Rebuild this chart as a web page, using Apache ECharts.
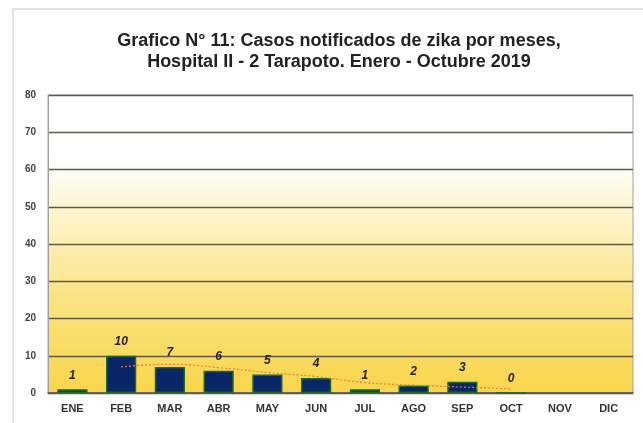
<!DOCTYPE html>
<html>
<head>
<meta charset="utf-8">
<script src="https://cdn.jsdelivr.net/npm/echarts@6/dist/echarts.min.js"></script>
<style>
  html, body { margin: 0; padding: 0; background: #fff; }
  #chart { width: 643px; height: 423px; }
</style>
</head>
<body>
<div id="chart"></div>
<script>
const meses   = ['ENE', 'FEB', 'MAR', 'ABR', 'MAY', 'JUN', 'JUL', 'AGO', 'SEP', 'OCT', 'NOV', 'DIC'];
const casos   = [1, 10, 7, 6, 5, 4, 1, 2, 3, 0, null, null];
// dotted trend line
const tendencia = [null, 7.0, 7.7, 6.8, 5.5, 4.4, 2.8, 2.1, 1.6, 1.1, null, null];
const yTicks  = [0, 10, 20, 30, 40, 50, 60, 70, 80];

const chart = echarts.init(document.getElementById('chart'));

let option = {
    backgroundColor: '#fff',
    animation: false,
    title: {
        text: 'Grafico N° 11: Casos notificados de zika por meses,\nHospital II - 2 Tarapoto. Enero - Octubre 2019',
        left: 334,
        textAlign: 'center',
        top: 26,
        textStyle: {
            fontFamily: 'Liberation Sans',
            fontWeight: 'bold',
            fontSize: 18,
            lineHeight: 21,
            color: '#222'
        }
    },
    graphic: [
        {
            type: 'polyline',
            shape: { points: [[13, 423], [13, 9], [643, 9]] },
            style: { stroke: '#c8c8c8', lineWidth: 1, fill: null }
        }
    ],
    grid: {
        left: 48,
        right: 10,
        top: 95,
        bottom: 30,
        show: true,
        borderColor: '#a0a0a0',
        borderWidth: 1,
        backgroundColor: new echarts.graphic.LinearGradient(0, 0, 0, 1, [
            { offset: 0, color: '#ffffff' },
            { offset: 0.22, color: '#ffffff' },
            { offset: 0.4, color: '#fdf4cc' },
            { offset: 0.7, color: '#fbe27e' },
            { offset: 1, color: '#f8d54a' }
        ])
    },
    xAxis: {
        type: 'category',
        data: meses,
        axisTick: { show: false },
        axisLine: { lineStyle: { color: '#555', width: 1.5 } },
        axisLabel: {
            color: '#333',
            fontFamily: 'Liberation Sans',
            fontWeight: 'bold',
            fontSize: 11,
            margin: 10
        }
    },
    yAxis: {
        type: 'value',
        min: yTicks[0],
        max: yTicks[yTicks.length - 1],
        interval: 10,
        axisLine: { show: true, lineStyle: { color: '#a0a0a0' } },
        axisTick: { show: false },
        axisLabel: {
            color: '#444',
            fontFamily: 'Liberation Sans',
            fontWeight: 'bold',
            fontSize: 10,
            margin: 12
        },
        splitLine: { lineStyle: { color: '#5e5a45', width: 1.3 } }
    },
    series: [
        {
            name: 'Casos',
            type: 'bar',
            data: casos,
            barWidth: '62%',
            itemStyle: {
                color: '#0a2568',
                borderColor: '#1f6a1f',
                borderWidth: 1.5
            },
            label: {
                show: true,
                position: 'top',
                distance: 8,
                color: '#222',
                fontFamily: 'Liberation Sans',
                fontWeight: 'bold',
                fontStyle: 'italic',
                fontSize: 12
            },
            z: 2
        },
        {
            name: 'Tendencia',
            type: 'line',
            data: tendencia,
            symbol: 'none',
            smooth: true,
            lineStyle: { color: '#e8803a', width: 1.2, type: [2, 2] },
            z: 3
        }
    ]
};

chart.setOption(option);
</script>
</body>
</html>
